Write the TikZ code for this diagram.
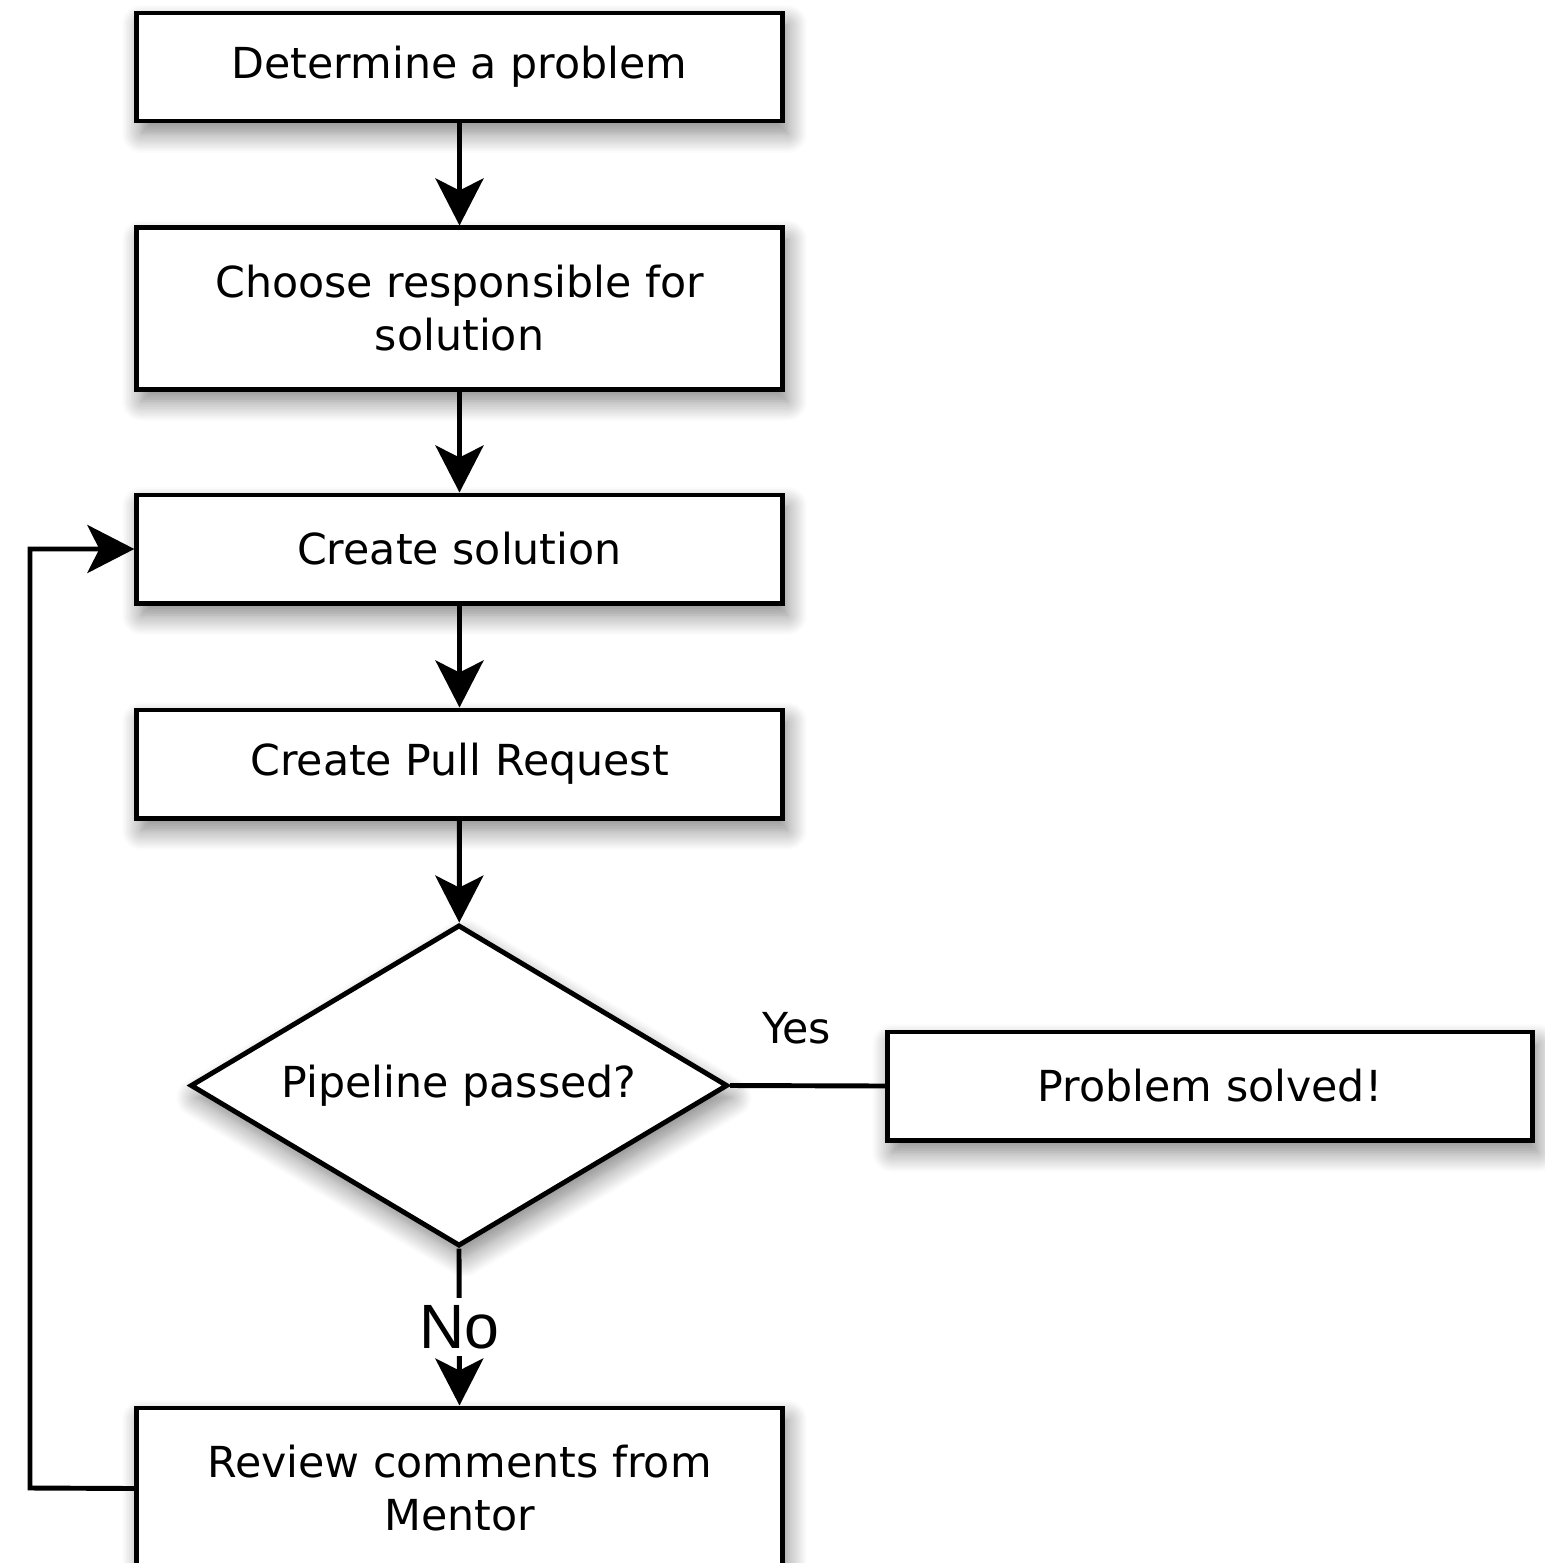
\documentclass[tikz,border=0pt]{standalone}
\usepackage{fontspec}
\setmainfont{DejaVu Sans}
\newfontfamily\labfont{Liberation Sans}
\usetikzlibrary{shapes.geometric,arrows.meta,shadows.blur}
\begin{document}
\begin{tikzpicture}[x=0.01cm,y=-0.01cm,
  boxstyle/.style={draw,line width=1.4pt,fill=white,minimum width=6.45cm,minimum height=1.08cm,
    inner sep=0pt,align=center,font=\fontsize{12.15}{15.1}\selectfont,
    blur shadow={shadow xshift=0.05cm,shadow yshift=-0.12cm,shadow blur steps=12,shadow blur radius=0.2cm,shadow opacity=50}},
  flow/.style={line width=1.4pt,-{Stealth[length=0.47cm,width=0.48cm,inset=0.12cm]}},
  plainline/.style={line width=1.4pt}]
\useasboundingbox (0,0) rectangle (1545,1563);
\clip (0,0) rectangle (1545,1563);
\node[boxstyle] (b1) at (459.5,67) {Determine a problem};
\node[boxstyle,minimum height=1.61cm] (b2) at (459.5,308.5) {Choose responsible for\\solution};
\node[boxstyle] (b3) at (459.5,549) {Create solution};
\node[boxstyle] (b4) at (459.5,764) {Create Pull Request};
\node[boxstyle,shape=diamond,aspect=1.67,minimum width=5.37cm,minimum height=3.21cm] (d1) at (459,1085.5) {Pipeline passed?};
\node[boxstyle] (b6) at (1210,1086) {Problem solved!};
\node[boxstyle,minimum height=1.61cm] (b7) at (459.5,1488.5) {Review comments from\\Mentor};
\coordinate (c1) at (30,1488);
\coordinate (c2) at (30,549);
\draw[flow] (b1) -- (b2);
\draw[flow] (b2) -- (b3);
\draw[flow] (b3) -- (b4);
\draw[flow] (b4) -- (d1);
\draw[plainline] (d1.east) -- (b6.west) node[pos=0.43,above=0.27cm,font=\fontsize{12.15}{14}\selectfont] (ly) {Yes};
\draw[flow] (d1.south) -- (b7.north) node[pos=0.5,fill=white,inner sep=2pt,font=\labfont\fontsize{17.8}{20}\selectfont] (ln) {No};
\draw[flow] (b7.west) -- (c1) -- (c2) -- (b3.west);
\end{tikzpicture}
\end{document}
